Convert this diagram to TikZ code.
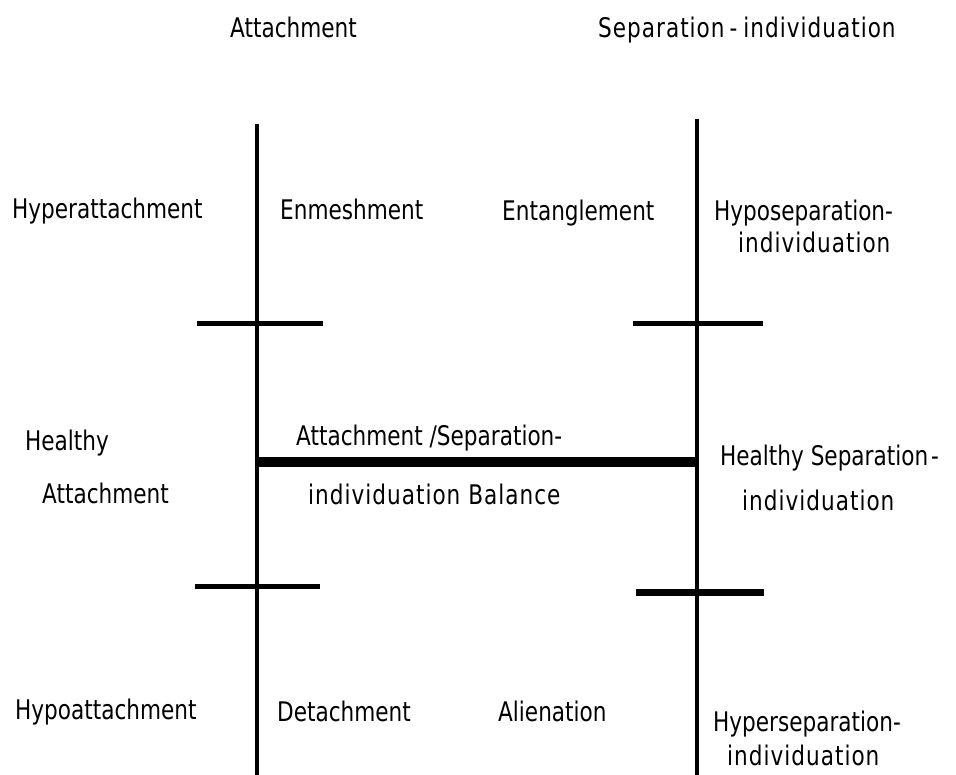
\documentclass[tikz,border=0pt]{standalone}
\usepackage{fontspec}
\setmainfont{DejaVu Sans}[FakeStretch=0.8]
\begin{document}
\begin{tikzpicture}[x=1pt,y=-1pt,
  lbl/.style={anchor=base west,inner sep=0pt,font=\fontsize{27}{30}\selectfont},
  widelbl/.style={lbl,font=\fontsize{27}{30}\selectfont\addfontfeature{LetterSpace=3.7}},
  axis/.style={line width=4pt},
  tick/.style={line width=5pt},
  heavytick/.style={line width=7pt},
  balance/.style={line width=10pt}]
\useasboundingbox (0,0) rectangle (956,775);

% axes and markers
\coordinate (atop) at (257,124);
\coordinate (abot) at (257,775);
\coordinate (stop) at (697,119);
\coordinate (sbot) at (697,775);
\coordinate (a1l) at (197,324); \coordinate (a1r) at (323,324);
\coordinate (s1l) at (633,324); \coordinate (s1r) at (763,324);
\coordinate (a2l) at (195,586); \coordinate (a2r) at (320,586);
\coordinate (s2l) at (636,592); \coordinate (s2r) at (764,592);
\coordinate (bl) at (257,462); \coordinate (br) at (697,462);

\draw[axis] (atop) -- (abot);
\draw[axis] (stop) -- (sbot);
\draw[tick] (a1l) -- (a1r);
\draw[tick] (s1l) -- (s1r);
\draw[tick] (a2l) -- (a2r);
\draw[heavytick] (s2l) -- (s2r);
\draw[balance] (bl) -- (br);

% headings
\node[lbl] (hA) at (230,38) {Attachment};
\node[widelbl] (hS) at (598,38) {Separation\kern5pt-\kern6pt individuation};

% upper band
\node[lbl] (hyperA) at (12,219) {Hyperattachment};
\node[lbl] (enm) at (280,220) {Enmeshment};
\node[lbl] (ent) at (502,221) {Entanglement};
\node[lbl] (hypoS1) at (714,221) {Hyposeparation-};
\node[widelbl] (hypoS2) at (738,253) {individuation};

% middle band
\node[lbl] (hA1) at (25,450) {Healthy};
\node[lbl] (hA2) at (42,503) {Attachment};
\node[lbl] (bal1) at (296,446) {Attachment /Separation-};
\node[widelbl] (bal2) at (308,504) {individuation Balance};
\node[lbl] (hS1) at (720,465) {Healthy Separation\kern3pt-};
\node[widelbl] (hS2) at (742,510) {individuation};

% lower band
\node[lbl] (hypoA) at (15,719) {Hypoattachment};
\node[lbl] (det) at (277,721) {Detachment};
\node[lbl] (ali) at (498,721) {Alienation};
\node[lbl] (hyperS1) at (713,731) {Hyperseparation-};
\node[widelbl] (hyperS2) at (727,765) {individuation};
\end{tikzpicture}
\end{document}
